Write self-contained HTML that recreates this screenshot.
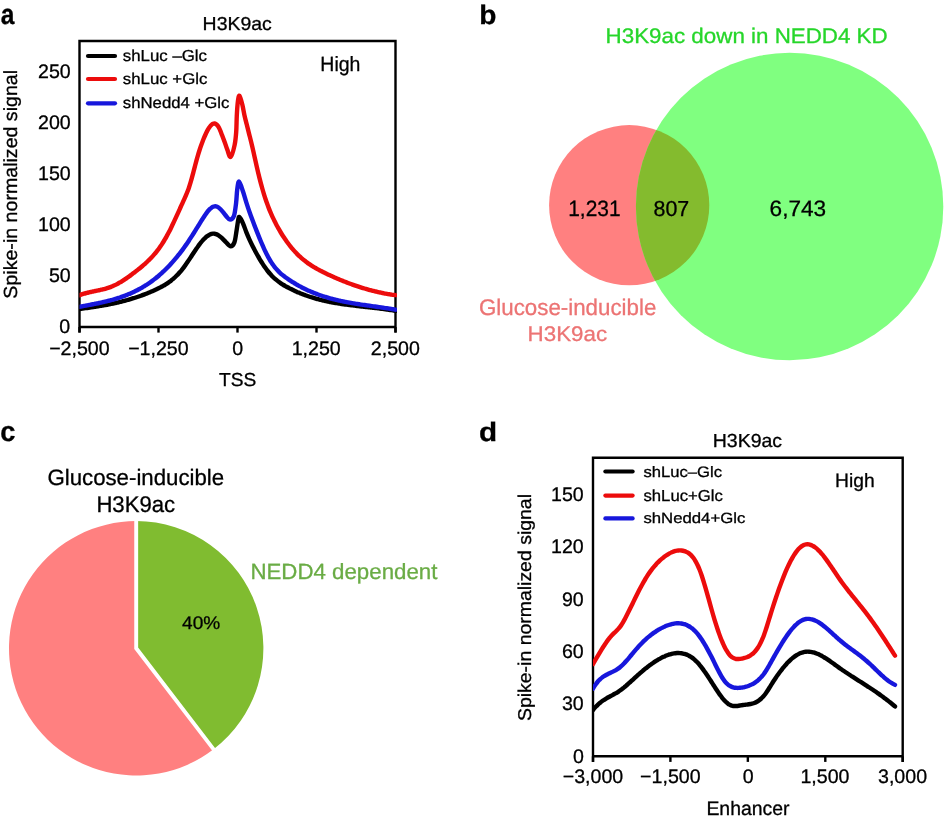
<!DOCTYPE html>
<html><head><meta charset="utf-8"><style>
html,body{margin:0;padding:0;background:#fff;}
svg{display:block;will-change:transform;}
text{font-family:"Liberation Sans",sans-serif;text-rendering:geometricPrecision;}
</style></head><body>
<svg width="946" height="820" viewBox="0 0 946 820">
<rect width="946" height="820" fill="#fff"/>
<circle cx="629.2" cy="205.2" r="80.1" fill="#ff8080"/>
<circle cx="789.6" cy="206.5" r="153.7" fill="#80ff80"/>
<clipPath id="cr"><circle cx="629.2" cy="205.2" r="80.1"/></clipPath>
<circle cx="789.6" cy="206.5" r="153.7" fill="#84bb2e" clip-path="url(#cr)"/>
<path d="M136.20,648.30 L136.20,521.10 A127.20,127.20 0 0 1 213.54,749.28 Z" fill="#80bc30"/>
<path d="M136.20,648.30 L213.54,749.28 A127.20,127.20 0 1 1 136.20,521.10 Z" fill="#ff8080"/>
<path d="M136.20,518.10 L136.20,648.30 L215.37,751.67" stroke="#fff" stroke-width="3.9" fill="none" stroke-linejoin="miter"/>
<path d="M79.5,332.6 L79.5,41 L395.5,41 L395.5,332.6" stroke="#000" stroke-width="2.4" fill="none" stroke-linejoin="miter" stroke-linecap="butt"/>
<line x1="79.5" y1="327" x2="395.5" y2="327" stroke="#000" stroke-width="2.4"/>
<line x1="79.5" y1="327" x2="79.5" y2="332.6" stroke="#000" stroke-width="2.4"/>
<line x1="158.5" y1="327" x2="158.5" y2="332.6" stroke="#000" stroke-width="2.4"/>
<line x1="237.5" y1="327" x2="237.5" y2="332.6" stroke="#000" stroke-width="2.4"/>
<line x1="316.5" y1="327" x2="316.5" y2="332.6" stroke="#000" stroke-width="2.4"/>
<line x1="395.5" y1="327" x2="395.5" y2="332.6" stroke="#000" stroke-width="2.4"/>
<clipPath id="clipa"><rect x="79.5" y="30" width="317.5" height="310"/></clipPath>
<path d="M79.50,308.95 C79.75,308.92 80.50,308.82 81.00,308.76 C81.50,308.69 82.00,308.62 82.50,308.56 C83.00,308.50 83.50,308.44 84.00,308.37 C84.50,308.31 85.00,308.24 85.50,308.17 C86.00,308.10 86.50,308.03 87.00,307.96 C87.50,307.89 88.00,307.82 88.50,307.75 C89.00,307.68 89.50,307.61 90.00,307.54 C90.50,307.47 91.00,307.39 91.50,307.32 C92.00,307.25 92.50,307.18 93.00,307.10 C93.50,307.03 94.00,306.95 94.50,306.87 C95.00,306.79 95.50,306.72 96.00,306.64 C96.50,306.56 97.00,306.48 97.50,306.40 C98.00,306.32 98.50,306.24 99.00,306.16 C99.50,306.08 100.00,306.00 100.50,305.91 C101.00,305.83 101.50,305.74 102.00,305.65 C102.50,305.56 103.00,305.48 103.50,305.39 C104.00,305.30 104.50,305.21 105.00,305.12 C105.50,305.03 106.00,304.93 106.50,304.84 C107.00,304.75 107.50,304.65 108.00,304.55 C108.50,304.45 109.00,304.36 109.50,304.26 C110.00,304.16 110.50,304.06 111.00,303.96 C111.50,303.86 112.00,303.75 112.50,303.65 C113.00,303.54 113.50,303.44 114.00,303.33 C114.50,303.22 115.00,303.11 115.50,303.00 C116.00,302.89 116.50,302.78 117.00,302.66 C117.50,302.55 118.00,302.43 118.50,302.31 C119.00,302.19 119.50,302.07 120.00,301.95 C120.50,301.83 121.00,301.70 121.50,301.58 C122.00,301.45 122.50,301.33 123.00,301.20 C123.50,301.07 124.00,300.94 124.50,300.81 C125.00,300.68 125.50,300.55 126.00,300.41 C126.50,300.28 127.00,300.14 127.50,300.00 C128.00,299.86 128.50,299.71 129.00,299.57 C129.50,299.43 130.00,299.28 130.50,299.13 C131.00,298.98 131.50,298.84 132.00,298.69 C132.50,298.54 133.00,298.38 133.50,298.22 C134.00,298.06 134.50,297.91 135.00,297.75 C135.50,297.59 136.00,297.43 136.50,297.26 C137.00,297.09 137.50,296.93 138.00,296.76 C138.50,296.59 139.00,296.42 139.50,296.24 C140.00,296.06 140.50,295.89 141.00,295.71 C141.50,295.53 142.00,295.35 142.50,295.16 C143.00,294.98 143.50,294.79 144.00,294.60 C144.50,294.41 145.00,294.22 145.50,294.03 C146.00,293.83 146.50,293.63 147.00,293.43 C147.50,293.23 148.00,293.03 148.50,292.83 C149.00,292.62 149.50,292.41 150.00,292.20 C150.50,291.99 151.00,291.78 151.50,291.56 C152.00,291.34 152.50,291.12 153.00,290.90 C153.50,290.68 154.00,290.46 154.50,290.23 C155.00,290.00 155.50,289.77 156.00,289.54 C156.50,289.31 157.00,289.07 157.50,288.83 C158.00,288.59 158.50,288.34 159.00,288.09 C159.50,287.84 160.00,287.59 160.50,287.33 C161.00,287.07 161.50,286.79 162.00,286.52 C162.50,286.25 163.00,285.97 163.50,285.68 C164.00,285.39 164.50,285.10 165.00,284.79 C165.50,284.49 166.00,284.17 166.50,283.85 C167.00,283.53 167.50,283.20 168.00,282.85 C168.50,282.50 169.00,282.15 169.50,281.78 C170.00,281.41 170.50,281.04 171.00,280.65 C171.50,280.26 172.00,279.86 172.50,279.44 C173.00,279.02 173.50,278.59 174.00,278.15 C174.50,277.70 175.00,277.24 175.50,276.77 C176.00,276.30 176.50,275.81 177.00,275.31 C177.50,274.81 178.00,274.28 178.50,273.74 C179.00,273.20 179.50,272.64 180.00,272.07 C180.50,271.50 181.00,270.90 181.50,270.29 C182.00,269.68 182.50,269.05 183.00,268.40 C183.50,267.75 184.00,267.07 184.50,266.39 C185.00,265.70 185.50,265.00 186.00,264.29 C186.50,263.58 187.00,262.84 187.50,262.10 C188.00,261.36 188.50,260.61 189.00,259.86 C189.50,259.11 190.00,258.35 190.50,257.59 C191.00,256.83 191.50,256.06 192.00,255.30 C192.50,254.54 193.00,253.78 193.50,253.02 C194.00,252.26 194.50,251.50 195.00,250.76 C195.50,250.02 196.00,249.28 196.50,248.56 C197.00,247.84 197.50,247.12 198.00,246.43 C198.50,245.74 199.00,245.05 199.50,244.39 C200.00,243.73 200.50,243.08 201.00,242.46 C201.50,241.84 202.00,241.24 202.50,240.67 C203.00,240.10 203.50,239.55 204.00,239.03 C204.50,238.51 205.00,238.02 205.50,237.57 C206.00,237.12 206.50,236.69 207.00,236.31 C207.50,235.93 208.00,235.58 208.50,235.27 C209.00,234.96 209.50,234.69 210.00,234.46 C210.50,234.24 211.00,234.05 211.50,233.92 C212.00,233.79 212.50,233.70 213.00,233.67 C213.50,233.64 214.00,233.65 214.50,233.72 C215.00,233.79 215.50,233.91 216.00,234.09 C216.50,234.27 217.00,234.50 217.50,234.77 C218.00,235.04 218.50,235.36 219.00,235.71 C219.50,236.06 220.00,236.46 220.50,236.87 C221.00,237.28 221.50,237.73 222.00,238.19 C222.50,238.65 223.00,239.15 223.50,239.64 C224.00,240.13 224.55,240.69 225.00,241.15 C225.45,241.61 225.27,241.56 226.20,242.40 C227.13,243.24 229.23,246.20 230.60,246.20 C231.97,246.20 233.40,245.05 234.40,242.40 C235.40,239.75 235.95,234.13 236.60,230.30 C237.25,226.47 237.82,221.58 238.30,219.40 C238.78,217.22 238.72,216.55 239.50,217.20 C240.28,217.85 241.87,220.82 243.00,223.30 C244.13,225.78 245.20,229.35 246.30,232.10 C247.40,234.85 248.40,237.18 249.60,239.80 C250.80,242.42 252.60,245.99 253.50,247.80 C254.40,249.62 254.50,249.74 255.00,250.69 C255.50,251.64 256.00,252.58 256.50,253.49 C257.00,254.41 257.50,255.30 258.00,256.18 C258.50,257.06 259.00,257.93 259.50,258.78 C260.00,259.63 260.50,260.46 261.00,261.27 C261.50,262.08 262.00,262.88 262.50,263.66 C263.00,264.44 263.50,265.18 264.00,265.92 C264.50,266.66 265.00,267.38 265.50,268.08 C266.00,268.78 266.50,269.45 267.00,270.10 C267.50,270.75 268.00,271.40 268.50,272.01 C269.00,272.62 269.50,273.21 270.00,273.78 C270.50,274.35 271.00,274.90 271.50,275.43 C272.00,275.96 272.50,276.46 273.00,276.95 C273.50,277.44 274.00,277.91 274.50,278.36 C275.00,278.81 275.50,279.26 276.00,279.68 C276.50,280.10 277.00,280.50 277.50,280.89 C278.00,281.28 278.50,281.66 279.00,282.03 C279.50,282.39 280.00,282.74 280.50,283.08 C281.00,283.42 281.50,283.75 282.00,284.07 C282.50,284.39 283.00,284.71 283.50,285.01 C284.00,285.31 284.50,285.60 285.00,285.89 C285.50,286.18 286.00,286.46 286.50,286.73 C287.00,287.00 287.50,287.27 288.00,287.54 C288.50,287.81 289.00,288.07 289.50,288.33 C290.00,288.59 290.50,288.84 291.00,289.09 C291.50,289.34 292.00,289.58 292.50,289.82 C293.00,290.06 293.50,290.31 294.00,290.54 C294.50,290.78 295.00,291.00 295.50,291.23 C296.00,291.46 296.50,291.68 297.00,291.90 C297.50,292.12 298.00,292.34 298.50,292.55 C299.00,292.76 299.50,292.97 300.00,293.17 C300.50,293.38 301.00,293.58 301.50,293.78 C302.00,293.98 302.50,294.17 303.00,294.36 C303.50,294.55 304.00,294.75 304.50,294.93 C305.00,295.12 305.50,295.29 306.00,295.47 C306.50,295.65 307.00,295.83 307.50,296.00 C308.00,296.17 308.50,296.34 309.00,296.51 C309.50,296.68 310.00,296.84 310.50,297.00 C311.00,297.16 311.50,297.32 312.00,297.47 C312.50,297.62 313.00,297.78 313.50,297.93 C314.00,298.08 314.50,298.23 315.00,298.37 C315.50,298.51 316.00,298.65 316.50,298.79 C317.00,298.93 317.50,299.07 318.00,299.20 C318.50,299.33 319.00,299.46 319.50,299.59 C320.00,299.72 320.50,299.85 321.00,299.97 C321.50,300.10 322.00,300.22 322.50,300.34 C323.00,300.46 323.50,300.57 324.00,300.69 C324.50,300.81 325.00,300.92 325.50,301.03 C326.00,301.14 326.50,301.24 327.00,301.35 C327.50,301.46 328.00,301.57 328.50,301.67 C329.00,301.77 329.50,301.87 330.00,301.97 C330.50,302.07 331.00,302.16 331.50,302.26 C332.00,302.36 332.50,302.45 333.00,302.54 C333.50,302.63 334.00,302.72 334.50,302.81 C335.00,302.90 335.50,302.99 336.00,303.07 C336.50,303.15 337.00,303.24 337.50,303.32 C338.00,303.40 338.50,303.48 339.00,303.56 C339.50,303.64 340.00,303.71 340.50,303.79 C341.00,303.87 341.50,303.95 342.00,304.02 C342.50,304.09 343.00,304.16 343.50,304.23 C344.00,304.30 344.50,304.38 345.00,304.45 C345.50,304.52 346.00,304.58 346.50,304.65 C347.00,304.72 347.50,304.79 348.00,304.85 C348.50,304.92 349.00,304.98 349.50,305.04 C350.00,305.10 350.50,305.17 351.00,305.23 C351.50,305.29 352.00,305.36 352.50,305.42 C353.00,305.48 353.50,305.54 354.00,305.60 C354.50,305.66 355.00,305.71 355.50,305.77 C356.00,305.83 356.50,305.89 357.00,305.95 C357.50,306.01 358.00,306.06 358.50,306.12 C359.00,306.18 359.50,306.22 360.00,306.28 C360.50,306.33 361.00,306.39 361.50,306.45 C362.00,306.51 362.50,306.56 363.00,306.62 C363.50,306.68 364.00,306.72 364.50,306.78 C365.00,306.83 365.50,306.89 366.00,306.95 C366.50,307.00 367.00,307.06 367.50,307.11 C368.00,307.17 368.50,307.22 369.00,307.28 C369.50,307.34 370.00,307.39 370.50,307.45 C371.00,307.51 371.50,307.56 372.00,307.62 C372.50,307.68 373.00,307.73 373.50,307.79 C374.00,307.85 374.50,307.90 375.00,307.96 C375.50,308.02 376.00,308.08 376.50,308.14 C377.00,308.20 377.50,308.26 378.00,308.32 C378.50,308.38 379.00,308.45 379.50,308.51 C380.00,308.57 380.50,308.64 381.00,308.70 C381.50,308.76 382.00,308.82 382.50,308.89 C383.00,308.95 383.50,309.02 384.00,309.09 C384.50,309.16 385.00,309.23 385.50,309.30 C386.00,309.37 386.50,309.44 387.00,309.51 C387.50,309.58 388.00,309.66 388.50,309.73 C389.00,309.81 389.50,309.88 390.00,309.96 C390.50,310.04 391.00,310.12 391.50,310.20 C392.00,310.28 392.50,310.36 393.00,310.44 C393.50,310.52 394.08,310.62 394.50,310.69 C394.92,310.76 395.33,310.84 395.50,310.87" stroke="#000" stroke-width="4.4" fill="none" stroke-linecap="round" stroke-linejoin="round" clip-path="url(#clipa)"/>
<path d="M79.50,295.14 C79.75,295.05 80.50,294.78 81.00,294.61 C81.50,294.44 82.00,294.28 82.50,294.12 C83.00,293.96 83.50,293.81 84.00,293.66 C84.50,293.52 85.00,293.38 85.50,293.25 C86.00,293.12 86.50,292.99 87.00,292.86 C87.50,292.73 88.00,292.61 88.50,292.49 C89.00,292.37 89.50,292.26 90.00,292.15 C90.50,292.04 91.00,291.93 91.50,291.82 C92.00,291.71 92.50,291.61 93.00,291.50 C93.50,291.39 94.00,291.29 94.50,291.18 C95.00,291.07 95.50,290.98 96.00,290.87 C96.50,290.76 97.00,290.66 97.50,290.55 C98.00,290.44 98.50,290.34 99.00,290.23 C99.50,290.12 100.00,290.00 100.50,289.89 C101.00,289.77 101.50,289.66 102.00,289.54 C102.50,289.42 103.00,289.30 103.50,289.17 C104.00,289.04 104.50,288.91 105.00,288.77 C105.50,288.63 106.00,288.49 106.50,288.34 C107.00,288.19 107.50,288.03 108.00,287.87 C108.50,287.71 109.00,287.55 109.50,287.37 C110.00,287.19 110.50,287.01 111.00,286.82 C111.50,286.63 112.00,286.43 112.50,286.22 C113.00,286.01 113.50,285.80 114.00,285.57 C114.50,285.34 115.00,285.11 115.50,284.86 C116.00,284.62 116.50,284.36 117.00,284.10 C117.50,283.84 118.00,283.57 118.50,283.29 C119.00,283.01 119.50,282.73 120.00,282.44 C120.50,282.15 121.00,281.85 121.50,281.54 C122.00,281.23 122.50,280.91 123.00,280.59 C123.50,280.27 124.00,279.94 124.50,279.61 C125.00,279.28 125.50,278.94 126.00,278.60 C126.50,278.26 127.00,277.90 127.50,277.55 C128.00,277.20 128.50,276.84 129.00,276.48 C129.50,276.12 130.00,275.75 130.50,275.38 C131.00,275.01 131.50,274.64 132.00,274.26 C132.50,273.88 133.00,273.50 133.50,273.12 C134.00,272.74 134.50,272.35 135.00,271.96 C135.50,271.57 136.00,271.18 136.50,270.79 C137.00,270.40 137.50,270.00 138.00,269.60 C138.50,269.20 139.00,268.81 139.50,268.41 C140.00,268.01 140.50,267.60 141.00,267.19 C141.50,266.78 142.00,266.37 142.50,265.95 C143.00,265.53 143.50,265.10 144.00,264.67 C144.50,264.24 145.00,263.80 145.50,263.35 C146.00,262.90 146.50,262.45 147.00,261.98 C147.50,261.51 148.00,261.04 148.50,260.55 C149.00,260.06 149.50,259.58 150.00,259.07 C150.50,258.56 151.00,258.04 151.50,257.51 C152.00,256.98 152.50,256.44 153.00,255.88 C153.50,255.32 154.00,254.75 154.50,254.16 C155.00,253.57 155.50,252.97 156.00,252.35 C156.50,251.73 157.00,251.10 157.50,250.45 C158.00,249.80 158.50,249.13 159.00,248.44 C159.50,247.75 160.00,247.05 160.50,246.32 C161.00,245.59 161.50,244.85 162.00,244.08 C162.50,243.31 163.00,242.53 163.50,241.72 C164.00,240.91 164.50,240.07 165.00,239.22 C165.50,238.37 166.00,237.49 166.50,236.59 C167.00,235.69 167.50,234.75 168.00,233.81 C168.50,232.87 169.00,231.90 169.50,230.92 C170.00,229.94 170.50,228.93 171.00,227.91 C171.50,226.89 172.00,225.86 172.50,224.81 C173.00,223.76 173.50,222.71 174.00,221.64 C174.50,220.57 175.00,219.50 175.50,218.41 C176.00,217.32 176.50,216.23 177.00,215.13 C177.50,214.03 178.00,212.93 178.50,211.83 C179.00,210.73 179.50,209.62 180.00,208.51 C180.50,207.40 181.00,206.30 181.50,205.20 C182.00,204.10 182.50,203.01 183.00,201.91 C183.50,200.81 184.00,199.74 184.50,198.62 C185.00,197.50 185.50,196.40 186.00,195.22 C186.50,194.04 187.00,192.83 187.50,191.53 C188.00,190.23 188.50,188.89 189.00,187.42 C189.50,185.95 190.00,184.38 190.50,182.71 C191.00,181.04 191.50,179.23 192.00,177.40 C192.50,175.57 193.00,173.65 193.50,171.74 C194.00,169.84 194.50,167.87 195.00,165.97 C195.50,164.07 196.00,162.16 196.50,160.35 C197.00,158.54 197.50,156.78 198.00,155.10 C198.50,153.41 199.00,151.80 199.50,150.24 C200.00,148.69 200.50,147.20 201.00,145.77 C201.50,144.34 202.00,142.97 202.50,141.66 C203.00,140.35 203.50,139.10 204.00,137.90 C204.50,136.70 205.00,135.57 205.50,134.48 C206.00,133.39 206.50,132.34 207.00,131.38 C207.50,130.41 208.00,129.51 208.50,128.69 C209.00,127.87 209.50,127.12 210.00,126.48 C210.50,125.84 211.00,125.27 211.50,124.83 C212.00,124.39 212.50,124.04 213.00,123.83 C213.50,123.62 214.00,123.51 214.50,123.55 C215.00,123.59 215.50,123.75 216.00,124.07 C216.50,124.39 217.00,124.85 217.50,125.48 C218.00,126.11 218.50,126.90 219.00,127.85 C219.50,128.80 220.00,129.98 220.50,131.19 C221.00,132.40 221.50,133.78 222.00,135.09 C222.50,136.40 223.00,137.74 223.50,139.05 C224.00,140.36 224.37,141.17 225.00,142.95 C225.63,144.72 226.35,147.36 227.30,149.70 C228.25,152.04 229.48,157.77 230.70,157.00 C231.92,156.23 233.68,149.27 234.60,145.10 C235.52,140.93 235.83,136.93 236.20,132.00 C236.57,127.07 236.52,120.63 236.80,115.50 C237.08,110.37 237.45,104.50 237.90,101.20 C238.35,97.90 238.77,95.15 239.50,95.70 C240.23,96.25 241.47,101.20 242.30,104.50 C243.13,107.80 243.77,112.20 244.50,115.50 C245.23,118.80 245.97,121.37 246.70,124.30 C247.43,127.23 248.17,130.18 248.90,133.10 C249.63,136.02 250.33,138.64 251.10,141.80 C251.87,144.96 252.85,149.24 253.50,152.07 C254.15,154.90 254.50,156.56 255.00,158.80 C255.50,161.04 256.00,163.31 256.50,165.51 C257.00,167.71 257.50,169.89 258.00,171.99 C258.50,174.09 259.00,176.13 259.50,178.11 C260.00,180.09 260.50,182.01 261.00,183.87 C261.50,185.73 262.00,187.52 262.50,189.26 C263.00,191.00 263.50,192.67 264.00,194.29 C264.50,195.91 265.00,197.46 265.50,198.96 C266.00,200.46 266.50,201.90 267.00,203.30 C267.50,204.70 268.00,206.04 268.50,207.34 C269.00,208.64 269.50,209.89 270.00,211.10 C270.50,212.31 271.00,213.48 271.50,214.61 C272.00,215.74 272.50,216.84 273.00,217.90 C273.50,218.97 274.00,220.00 274.50,221.00 C275.00,222.00 275.50,222.97 276.00,223.93 C276.50,224.89 277.00,225.83 277.50,226.74 C278.00,227.66 278.50,228.54 279.00,229.42 C279.50,230.30 280.00,231.16 280.50,232.00 C281.00,232.84 281.50,233.66 282.00,234.46 C282.50,235.26 283.00,236.05 283.50,236.82 C284.00,237.59 284.50,238.34 285.00,239.08 C285.50,239.82 286.00,240.54 286.50,241.24 C287.00,241.94 287.50,242.63 288.00,243.30 C288.50,243.97 289.00,244.63 289.50,245.27 C290.00,245.91 290.50,246.53 291.00,247.14 C291.50,247.75 292.00,248.35 292.50,248.94 C293.00,249.53 293.50,250.09 294.00,250.65 C294.50,251.21 295.00,251.75 295.50,252.28 C296.00,252.81 296.50,253.33 297.00,253.83 C297.50,254.34 298.00,254.83 298.50,255.31 C299.00,255.79 299.50,256.26 300.00,256.72 C300.50,257.18 301.00,257.63 301.50,258.07 C302.00,258.51 302.50,258.93 303.00,259.35 C303.50,259.77 304.00,260.17 304.50,260.57 C305.00,260.97 305.50,261.36 306.00,261.74 C306.50,262.12 307.00,262.49 307.50,262.85 C308.00,263.21 308.50,263.56 309.00,263.91 C309.50,264.26 310.00,264.60 310.50,264.93 C311.00,265.26 311.50,265.58 312.00,265.90 C312.50,266.22 313.00,266.53 313.50,266.83 C314.00,267.13 314.50,267.43 315.00,267.72 C315.50,268.01 316.00,268.31 316.50,268.59 C317.00,268.87 317.50,269.15 318.00,269.42 C318.50,269.69 319.00,269.96 319.50,270.22 C320.00,270.48 320.50,270.74 321.00,271.00 C321.50,271.26 322.00,271.51 322.50,271.76 C323.00,272.01 323.50,272.26 324.00,272.51 C324.50,272.76 325.00,273.00 325.50,273.24 C326.00,273.48 326.50,273.72 327.00,273.96 C327.50,274.20 328.00,274.44 328.50,274.67 C329.00,274.91 329.50,275.14 330.00,275.37 C330.50,275.60 331.00,275.83 331.50,276.06 C332.00,276.29 332.50,276.51 333.00,276.73 C333.50,276.95 334.00,277.18 334.50,277.40 C335.00,277.62 335.50,277.84 336.00,278.06 C336.50,278.28 337.00,278.50 337.50,278.71 C338.00,278.92 338.50,279.13 339.00,279.34 C339.50,279.55 340.00,279.76 340.50,279.97 C341.00,280.18 341.50,280.38 342.00,280.58 C342.50,280.78 343.00,280.99 343.50,281.19 C344.00,281.39 344.50,281.58 345.00,281.78 C345.50,281.98 346.00,282.18 346.50,282.37 C347.00,282.56 347.50,282.75 348.00,282.94 C348.50,283.13 349.00,283.31 349.50,283.50 C350.00,283.69 350.50,283.87 351.00,284.05 C351.50,284.23 352.00,284.41 352.50,284.59 C353.00,284.77 353.50,284.94 354.00,285.12 C354.50,285.30 355.00,285.47 355.50,285.64 C356.00,285.81 356.50,285.97 357.00,286.14 C357.50,286.31 358.00,286.48 358.50,286.64 C359.00,286.80 359.50,286.96 360.00,287.12 C360.50,287.28 361.00,287.43 361.50,287.59 C362.00,287.75 362.50,287.90 363.00,288.05 C363.50,288.20 364.00,288.35 364.50,288.50 C365.00,288.65 365.50,288.80 366.00,288.94 C366.50,289.08 367.00,289.23 367.50,289.37 C368.00,289.51 368.50,289.64 369.00,289.78 C369.50,289.92 370.00,290.06 370.50,290.19 C371.00,290.32 371.50,290.45 372.00,290.58 C372.50,290.71 373.00,290.83 373.50,290.96 C374.00,291.08 374.50,291.21 375.00,291.33 C375.50,291.45 376.00,291.56 376.50,291.68 C377.00,291.80 377.50,291.92 378.00,292.03 C378.50,292.14 379.00,292.25 379.50,292.36 C380.00,292.47 380.50,292.57 381.00,292.68 C381.50,292.79 382.00,292.89 382.50,292.99 C383.00,293.09 383.50,293.19 384.00,293.29 C384.50,293.39 385.00,293.49 385.50,293.58 C386.00,293.67 386.50,293.76 387.00,293.85 C387.50,293.94 388.00,294.03 388.50,294.11 C389.00,294.19 389.50,294.28 390.00,294.36 C390.50,294.44 391.00,294.51 391.50,294.59 C392.00,294.67 392.50,294.75 393.00,294.82 C393.50,294.89 394.08,294.97 394.50,295.03 C394.92,295.09 395.33,295.14 395.50,295.16" stroke="#ec0c0c" stroke-width="4.4" fill="none" stroke-linecap="round" stroke-linejoin="round" clip-path="url(#clipa)"/>
<path d="M79.50,306.81 C79.75,306.76 80.50,306.62 81.00,306.52 C81.50,306.42 82.00,306.33 82.50,306.23 C83.00,306.13 83.50,306.04 84.00,305.95 C84.50,305.86 85.00,305.75 85.50,305.66 C86.00,305.57 86.50,305.48 87.00,305.38 C87.50,305.28 88.00,305.18 88.50,305.09 C89.00,305.00 89.50,304.90 90.00,304.81 C90.50,304.72 91.00,304.62 91.50,304.52 C92.00,304.42 92.50,304.32 93.00,304.22 C93.50,304.12 94.00,304.03 94.50,303.93 C95.00,303.83 95.50,303.73 96.00,303.63 C96.50,303.53 97.00,303.42 97.50,303.32 C98.00,303.22 98.50,303.12 99.00,303.01 C99.50,302.90 100.00,302.80 100.50,302.69 C101.00,302.58 101.50,302.47 102.00,302.36 C102.50,302.25 103.00,302.13 103.50,302.02 C104.00,301.90 104.50,301.79 105.00,301.67 C105.50,301.55 106.00,301.43 106.50,301.31 C107.00,301.19 107.50,301.06 108.00,300.94 C108.50,300.81 109.00,300.69 109.50,300.56 C110.00,300.43 110.50,300.30 111.00,300.16 C111.50,300.03 112.00,299.89 112.50,299.75 C113.00,299.61 113.50,299.47 114.00,299.33 C114.50,299.19 115.00,299.04 115.50,298.89 C116.00,298.74 116.50,298.59 117.00,298.43 C117.50,298.27 118.00,298.11 118.50,297.95 C119.00,297.79 119.50,297.63 120.00,297.46 C120.50,297.29 121.00,297.12 121.50,296.95 C122.00,296.77 122.50,296.59 123.00,296.41 C123.50,296.23 124.00,296.05 124.50,295.86 C125.00,295.67 125.50,295.49 126.00,295.29 C126.50,295.10 127.00,294.89 127.50,294.69 C128.00,294.49 128.50,294.28 129.00,294.07 C129.50,293.86 130.00,293.64 130.50,293.42 C131.00,293.20 131.50,292.98 132.00,292.75 C132.50,292.52 133.00,292.30 133.50,292.06 C134.00,291.82 134.50,291.58 135.00,291.34 C135.50,291.09 136.00,290.84 136.50,290.59 C137.00,290.33 137.50,290.07 138.00,289.81 C138.50,289.55 139.00,289.27 139.50,289.00 C140.00,288.73 140.50,288.45 141.00,288.16 C141.50,287.88 142.00,287.59 142.50,287.29 C143.00,287.00 143.50,286.69 144.00,286.39 C144.50,286.08 145.00,285.78 145.50,285.46 C146.00,285.14 146.50,284.82 147.00,284.49 C147.50,284.16 148.00,283.83 148.50,283.49 C149.00,283.15 149.50,282.81 150.00,282.46 C150.50,282.11 151.00,281.74 151.50,281.38 C152.00,281.02 152.50,280.65 153.00,280.28 C153.50,279.90 154.00,279.52 154.50,279.13 C155.00,278.74 155.50,278.35 156.00,277.95 C156.50,277.55 157.00,277.14 157.50,276.72 C158.00,276.31 158.50,275.89 159.00,275.46 C159.50,275.03 160.00,274.59 160.50,274.15 C161.00,273.71 161.50,273.26 162.00,272.81 C162.50,272.36 163.00,271.89 163.50,271.42 C164.00,270.95 164.50,270.47 165.00,269.98 C165.50,269.50 166.00,269.01 166.50,268.51 C167.00,268.01 167.50,267.50 168.00,266.98 C168.50,266.46 169.00,265.94 169.50,265.41 C170.00,264.88 170.50,264.35 171.00,263.80 C171.50,263.25 172.00,262.70 172.50,262.14 C173.00,261.58 173.50,261.00 174.00,260.42 C174.50,259.84 175.00,259.25 175.50,258.66 C176.00,258.07 176.50,257.46 177.00,256.85 C177.50,256.24 178.00,255.62 178.50,254.99 C179.00,254.36 179.50,253.72 180.00,253.07 C180.50,252.42 181.00,251.77 181.50,251.11 C182.00,250.45 182.50,249.77 183.00,249.09 C183.50,248.41 184.00,247.71 184.50,247.01 C185.00,246.31 185.50,245.60 186.00,244.88 C186.50,244.16 187.00,243.44 187.50,242.70 C188.00,241.96 188.50,241.22 189.00,240.46 C189.50,239.71 190.00,238.94 190.50,238.17 C191.00,237.40 191.50,236.62 192.00,235.84 C192.50,235.06 193.00,234.28 193.50,233.49 C194.00,232.70 194.50,231.90 195.00,231.10 C195.50,230.30 196.00,229.50 196.50,228.70 C197.00,227.90 197.50,227.09 198.00,226.28 C198.50,225.47 199.00,224.67 199.50,223.86 C200.00,223.05 200.50,222.25 201.00,221.44 C201.50,220.63 202.00,219.82 202.50,219.03 C203.00,218.24 203.50,217.44 204.00,216.68 C204.50,215.92 205.00,215.17 205.50,214.45 C206.00,213.73 206.50,213.03 207.00,212.38 C207.50,211.73 208.00,211.10 208.50,210.53 C209.00,209.96 209.50,209.42 210.00,208.95 C210.50,208.48 211.00,208.05 211.50,207.69 C212.00,207.33 212.50,207.03 213.00,206.80 C213.50,206.58 214.00,206.42 214.50,206.34 C215.00,206.26 215.50,206.26 216.00,206.35 C216.50,206.44 217.00,206.62 217.50,206.88 C218.00,207.13 218.50,207.49 219.00,207.88 C219.50,208.27 220.00,208.74 220.50,209.24 C221.00,209.74 221.50,210.31 222.00,210.88 C222.50,211.45 223.00,212.07 223.50,212.69 C224.00,213.31 224.55,214.00 225.00,214.57 C225.45,215.14 225.37,215.26 226.20,216.10 C227.03,216.94 228.72,219.60 230.00,219.60 C231.28,219.60 232.88,218.88 233.90,216.10 C234.92,213.32 235.55,207.30 236.10,202.90 C236.65,198.50 236.70,193.25 237.20,189.70 C237.70,186.15 238.13,181.30 239.10,181.60 C240.07,181.90 241.80,188.03 243.00,191.50 C244.20,194.97 245.20,198.93 246.30,202.40 C247.40,205.87 248.40,208.90 249.60,212.30 C250.80,215.70 252.60,220.39 253.50,222.79 C254.40,225.19 254.50,225.42 255.00,226.72 C255.50,228.02 256.00,229.32 256.50,230.60 C257.00,231.88 257.50,233.16 258.00,234.41 C258.50,235.66 259.00,236.91 259.50,238.13 C260.00,239.35 260.50,240.56 261.00,241.75 C261.50,242.94 262.00,244.10 262.50,245.24 C263.00,246.38 263.50,247.50 264.00,248.59 C264.50,249.68 265.00,250.75 265.50,251.78 C266.00,252.81 266.50,253.83 267.00,254.80 C267.50,255.78 268.00,256.72 268.50,257.63 C269.00,258.54 269.50,259.41 270.00,260.24 C270.50,261.07 271.00,261.87 271.50,262.64 C272.00,263.41 272.50,264.14 273.00,264.84 C273.50,265.54 274.00,266.20 274.50,266.84 C275.00,267.48 275.50,268.10 276.00,268.68 C276.50,269.26 277.00,269.82 277.50,270.35 C278.00,270.88 278.50,271.40 279.00,271.89 C279.50,272.38 280.00,272.85 280.50,273.30 C281.00,273.75 281.50,274.19 282.00,274.61 C282.50,275.03 283.00,275.43 283.50,275.82 C284.00,276.21 284.50,276.59 285.00,276.96 C285.50,277.33 286.00,277.69 286.50,278.04 C287.00,278.39 287.50,278.74 288.00,279.08 C288.50,279.42 289.00,279.76 289.50,280.09 C290.00,280.42 290.50,280.75 291.00,281.07 C291.50,281.39 292.00,281.71 292.50,282.02 C293.00,282.33 293.50,282.64 294.00,282.95 C294.50,283.25 295.00,283.56 295.50,283.85 C296.00,284.15 296.50,284.44 297.00,284.72 C297.50,285.00 298.00,285.28 298.50,285.56 C299.00,285.84 299.50,286.12 300.00,286.39 C300.50,286.66 301.00,286.92 301.50,287.18 C302.00,287.44 302.50,287.70 303.00,287.95 C303.50,288.20 304.00,288.45 304.50,288.70 C305.00,288.95 305.50,289.19 306.00,289.43 C306.50,289.67 307.00,289.90 307.50,290.13 C308.00,290.36 308.50,290.59 309.00,290.81 C309.50,291.03 310.00,291.25 310.50,291.47 C311.00,291.69 311.50,291.90 312.00,292.11 C312.50,292.32 313.00,292.52 313.50,292.72 C314.00,292.92 314.50,293.12 315.00,293.32 C315.50,293.52 316.00,293.71 316.50,293.90 C317.00,294.09 317.50,294.27 318.00,294.45 C318.50,294.63 319.00,294.81 319.50,294.99 C320.00,295.17 320.50,295.34 321.00,295.51 C321.50,295.68 322.00,295.85 322.50,296.02 C323.00,296.19 323.50,296.34 324.00,296.50 C324.50,296.66 325.00,296.82 325.50,296.97 C326.00,297.12 326.50,297.28 327.00,297.43 C327.50,297.58 328.00,297.73 328.50,297.87 C329.00,298.01 329.50,298.15 330.00,298.29 C330.50,298.43 331.00,298.57 331.50,298.70 C332.00,298.83 332.50,298.96 333.00,299.09 C333.50,299.22 334.00,299.35 334.50,299.47 C335.00,299.60 335.50,299.72 336.00,299.84 C336.50,299.96 337.00,300.08 337.50,300.20 C338.00,300.32 338.50,300.43 339.00,300.54 C339.50,300.65 340.00,300.76 340.50,300.87 C341.00,300.98 341.50,301.08 342.00,301.19 C342.50,301.30 343.00,301.40 343.50,301.50 C344.00,301.60 344.50,301.71 345.00,301.81 C345.50,301.91 346.00,302.00 346.50,302.10 C347.00,302.20 347.50,302.29 348.00,302.38 C348.50,302.47 349.00,302.56 349.50,302.65 C350.00,302.74 350.50,302.83 351.00,302.92 C351.50,303.01 352.00,303.10 352.50,303.18 C353.00,303.26 353.50,303.35 354.00,303.43 C354.50,303.51 355.00,303.60 355.50,303.68 C356.00,303.76 356.50,303.84 357.00,303.92 C357.50,304.00 358.00,304.07 358.50,304.15 C359.00,304.23 359.50,304.30 360.00,304.38 C360.50,304.46 361.00,304.54 361.50,304.61 C362.00,304.69 362.50,304.76 363.00,304.83 C363.50,304.90 364.00,304.98 364.50,305.05 C365.00,305.12 365.50,305.19 366.00,305.26 C366.50,305.33 367.00,305.41 367.50,305.48 C368.00,305.55 368.50,305.62 369.00,305.69 C369.50,305.76 370.00,305.83 370.50,305.90 C371.00,305.97 371.50,306.04 372.00,306.11 C372.50,306.18 373.00,306.25 373.50,306.32 C374.00,306.39 374.50,306.46 375.00,306.53 C375.50,306.60 376.00,306.67 376.50,306.74 C377.00,306.81 377.50,306.88 378.00,306.95 C378.50,307.02 379.00,307.10 379.50,307.17 C380.00,307.24 380.50,307.31 381.00,307.38 C381.50,307.45 382.00,307.53 382.50,307.60 C383.00,307.67 383.50,307.75 384.00,307.82 C384.50,307.89 385.00,307.97 385.50,308.05 C386.00,308.13 386.50,308.20 387.00,308.28 C387.50,308.36 388.00,308.44 388.50,308.52 C389.00,308.60 389.50,308.68 390.00,308.76 C390.50,308.84 391.00,308.93 391.50,309.01 C392.00,309.09 392.50,309.18 393.00,309.26 C393.50,309.34 394.08,309.45 394.50,309.52 C394.92,309.59 395.33,309.67 395.50,309.70" stroke="#1717dc" stroke-width="4.4" fill="none" stroke-linecap="round" stroke-linejoin="round" clip-path="url(#clipa)"/>
<line x1="88" y1="56" x2="115" y2="56" stroke="#000" stroke-width="4.2" stroke-linecap="round"/>
<line x1="88" y1="79" x2="115" y2="79" stroke="#ec0c0c" stroke-width="4.2" stroke-linecap="round"/>
<line x1="88" y1="103.3" x2="115" y2="103.3" stroke="#1717dc" stroke-width="4.2" stroke-linecap="round"/>
<path d="M593,761.9 L593,457.8 L902.7,457.8 L902.7,761.9" stroke="#000" stroke-width="2.4" fill="none" stroke-linejoin="miter" stroke-linecap="butt"/>
<line x1="593" y1="756.3" x2="902.7" y2="756.3" stroke="#000" stroke-width="2.4"/>
<line x1="593" y1="756.3" x2="593" y2="761.9" stroke="#000" stroke-width="2.4"/>
<line x1="670.4" y1="756.3" x2="670.4" y2="761.9" stroke="#000" stroke-width="2.4"/>
<line x1="747.85" y1="756.3" x2="747.85" y2="761.9" stroke="#000" stroke-width="2.4"/>
<line x1="825.3" y1="756.3" x2="825.3" y2="761.9" stroke="#000" stroke-width="2.4"/>
<line x1="902.7" y1="756.3" x2="902.7" y2="761.9" stroke="#000" stroke-width="2.4"/>
<clipPath id="clipd"><rect x="593" y="440" width="320" height="330"/></clipPath>
<path d="M593.00,709.98 C593.25,709.68 594.00,708.75 594.50,708.17 C595.00,707.59 595.50,707.04 596.00,706.52 C596.50,706.00 597.00,705.50 597.50,705.03 C598.00,704.55 598.50,704.10 599.00,703.67 C599.50,703.24 600.00,702.82 600.50,702.43 C601.00,702.03 601.50,701.66 602.00,701.30 C602.50,700.94 603.00,700.60 603.50,700.26 C604.00,699.92 604.50,699.60 605.00,699.29 C605.50,698.98 606.00,698.68 606.50,698.39 C607.00,698.10 607.50,697.81 608.00,697.53 C608.50,697.25 609.00,696.97 609.50,696.70 C610.00,696.43 610.50,696.17 611.00,695.90 C611.50,695.63 612.00,695.36 612.50,695.09 C613.00,694.82 613.50,694.55 614.00,694.27 C614.50,693.99 615.00,693.71 615.50,693.42 C616.00,693.13 616.50,692.83 617.00,692.52 C617.50,692.21 618.00,691.90 618.50,691.57 C619.00,691.24 619.50,690.90 620.00,690.55 C620.50,690.20 621.00,689.83 621.50,689.45 C622.00,689.07 622.50,688.69 623.00,688.29 C623.50,687.89 624.00,687.48 624.50,687.07 C625.00,686.66 625.50,686.24 626.00,685.81 C626.50,685.38 627.00,684.95 627.50,684.51 C628.00,684.07 628.50,683.62 629.00,683.17 C629.50,682.72 630.00,682.28 630.50,681.82 C631.00,681.37 631.50,680.90 632.00,680.44 C632.50,679.98 633.00,679.53 633.50,679.07 C634.00,678.61 634.50,678.15 635.00,677.69 C635.50,677.23 636.00,676.78 636.50,676.33 C637.00,675.88 637.50,675.43 638.00,674.98 C638.50,674.53 639.00,674.10 639.50,673.66 C640.00,673.22 640.50,672.78 641.00,672.35 C641.50,671.92 642.00,671.49 642.50,671.07 C643.00,670.65 643.50,670.23 644.00,669.82 C644.50,669.41 645.00,668.99 645.50,668.59 C646.00,668.19 646.50,667.79 647.00,667.40 C647.50,667.01 648.00,666.61 648.50,666.23 C649.00,665.85 649.50,665.47 650.00,665.10 C650.50,664.73 651.00,664.37 651.50,664.01 C652.00,663.65 652.50,663.30 653.00,662.96 C653.50,662.62 654.00,662.28 654.50,661.95 C655.00,661.62 655.50,661.29 656.00,660.97 C656.50,660.65 657.00,660.35 657.50,660.05 C658.00,659.75 658.50,659.46 659.00,659.17 C659.50,658.88 660.00,658.60 660.50,658.33 C661.00,658.06 661.50,657.80 662.00,657.55 C662.50,657.30 663.00,657.05 663.50,656.82 C664.00,656.59 664.50,656.37 665.00,656.15 C665.50,655.93 666.00,655.73 666.50,655.53 C667.00,655.33 667.50,655.15 668.00,654.97 C668.50,654.79 669.00,654.62 669.50,654.47 C670.00,654.32 670.50,654.17 671.00,654.04 C671.50,653.91 672.00,653.79 672.50,653.68 C673.00,653.57 673.50,653.47 674.00,653.39 C674.50,653.31 675.00,653.24 675.50,653.19 C676.00,653.14 676.50,653.10 677.00,653.07 C677.50,653.05 678.00,653.03 678.50,653.04 C679.00,653.05 679.50,653.07 680.00,653.11 C680.50,653.15 681.00,653.21 681.50,653.28 C682.00,653.35 682.50,653.44 683.00,653.55 C683.50,653.66 684.00,653.78 684.50,653.93 C685.00,654.07 685.50,654.23 686.00,654.42 C686.50,654.61 687.00,654.81 687.50,655.04 C688.00,655.27 688.50,655.51 689.00,655.78 C689.50,656.05 690.00,656.33 690.50,656.64 C691.00,656.95 691.50,657.28 692.00,657.64 C692.50,658.00 693.00,658.38 693.50,658.78 C694.00,659.18 694.50,659.61 695.00,660.06 C695.50,660.51 696.00,660.99 696.50,661.49 C697.00,661.99 697.50,662.51 698.00,663.06 C698.50,663.61 699.00,664.19 699.50,664.79 C700.00,665.39 700.50,666.00 701.00,666.64 C701.50,667.28 702.00,667.94 702.50,668.61 C703.00,669.28 703.50,669.97 704.00,670.67 C704.50,671.37 705.00,672.09 705.50,672.82 C706.00,673.55 706.50,674.30 707.00,675.05 C707.50,675.80 708.00,676.56 708.50,677.32 C709.00,678.09 709.50,678.86 710.00,679.64 C710.50,680.42 711.00,681.20 711.50,681.98 C712.00,682.76 712.50,683.55 713.00,684.33 C713.50,685.11 714.00,685.90 714.50,686.68 C715.00,687.46 715.50,688.24 716.00,689.00 C716.50,689.76 717.00,690.53 717.50,691.27 C718.00,692.01 718.50,692.75 719.00,693.46 C719.50,694.17 720.00,694.87 720.50,695.55 C721.00,696.23 721.50,696.89 722.00,697.52 C722.50,698.15 723.00,698.76 723.50,699.34 C724.00,699.92 724.50,700.47 725.00,700.99 C725.50,701.51 726.00,701.99 726.50,702.44 C727.00,702.89 727.50,703.30 728.00,703.67 C728.50,704.04 729.00,704.38 729.50,704.66 C730.00,704.94 730.50,705.19 731.00,705.38 C731.50,705.57 732.00,705.71 732.50,705.82 C733.00,705.93 733.50,706.00 734.00,706.04 C734.50,706.08 735.00,706.08 735.50,706.07 C736.00,706.06 736.50,706.01 737.00,705.96 C737.50,705.91 738.00,705.83 738.50,705.75 C739.00,705.67 739.50,705.59 740.00,705.50 C740.50,705.41 741.00,705.31 741.50,705.23 C742.00,705.15 742.50,705.08 743.00,705.01 C743.50,704.94 744.00,704.88 744.50,704.82 C745.00,704.76 745.50,704.71 746.00,704.65 C746.50,704.59 747.00,704.54 747.50,704.48 C748.00,704.42 748.50,704.35 749.00,704.27 C749.50,704.19 750.00,704.11 750.50,704.01 C751.00,703.91 751.50,703.80 752.00,703.67 C752.50,703.54 753.00,703.39 753.50,703.22 C754.00,703.05 754.50,702.87 755.00,702.65 C755.50,702.43 756.00,702.19 756.50,701.93 C757.00,701.66 757.50,701.38 758.00,701.06 C758.50,700.74 759.00,700.38 759.50,700.00 C760.00,699.62 760.50,699.20 761.00,698.75 C761.50,698.30 762.00,697.81 762.50,697.29 C763.00,696.77 763.50,696.21 764.00,695.61 C764.50,695.01 765.00,694.37 765.50,693.69 C766.00,693.01 766.50,692.28 767.00,691.53 C767.50,690.78 768.00,690.00 768.50,689.21 C769.00,688.42 769.50,687.60 770.00,686.80 C770.50,686.00 771.00,685.18 771.50,684.39 C772.00,683.60 772.50,682.80 773.00,682.03 C773.50,681.25 774.00,680.50 774.50,679.74 C775.00,678.99 775.50,678.24 776.00,677.50 C776.50,676.76 777.00,676.04 777.50,675.33 C778.00,674.62 778.50,673.92 779.00,673.24 C779.50,672.56 780.00,671.88 780.50,671.22 C781.00,670.56 781.50,669.90 782.00,669.27 C782.50,668.63 783.00,668.02 783.50,667.41 C784.00,666.80 784.50,666.21 785.00,665.63 C785.50,665.05 786.00,664.50 786.50,663.95 C787.00,663.40 787.50,662.87 788.00,662.35 C788.50,661.83 789.00,661.33 789.50,660.85 C790.00,660.37 790.50,659.90 791.00,659.45 C791.50,659.00 792.00,658.57 792.50,658.16 C793.00,657.75 793.50,657.35 794.00,656.97 C794.50,656.59 795.00,656.23 795.50,655.89 C796.00,655.55 796.50,655.23 797.00,654.93 C797.50,654.63 798.00,654.34 798.50,654.08 C799.00,653.82 799.50,653.58 800.00,653.36 C800.50,653.14 801.00,652.94 801.50,652.76 C802.00,652.58 802.50,652.42 803.00,652.29 C803.50,652.15 804.00,652.04 804.50,651.95 C805.00,651.86 805.50,651.79 806.00,651.74 C806.50,651.69 807.00,651.67 807.50,651.66 C808.00,651.65 808.50,651.67 809.00,651.70 C809.50,651.73 810.00,651.78 810.50,651.85 C811.00,651.92 811.50,652.01 812.00,652.11 C812.50,652.21 813.00,652.34 813.50,652.47 C814.00,652.61 814.50,652.75 815.00,652.92 C815.50,653.08 816.00,653.27 816.50,653.46 C817.00,653.65 817.50,653.86 818.00,654.08 C818.50,654.30 819.00,654.53 819.50,654.77 C820.00,655.01 820.50,655.27 821.00,655.54 C821.50,655.80 822.00,656.08 822.50,656.36 C823.00,656.64 823.50,656.94 824.00,657.24 C824.50,657.54 825.00,657.85 825.50,658.17 C826.00,658.49 826.50,658.81 827.00,659.14 C827.50,659.47 828.00,659.80 828.50,660.14 C829.00,660.48 829.50,660.82 830.00,661.17 C830.50,661.52 831.00,661.88 831.50,662.23 C832.00,662.59 832.50,662.94 833.00,663.30 C833.50,663.66 834.00,664.03 834.50,664.39 C835.00,664.75 835.50,665.11 836.00,665.47 C836.50,665.83 837.00,666.19 837.50,666.55 C838.00,666.91 838.50,667.26 839.00,667.62 C839.50,667.98 840.00,668.33 840.50,668.68 C841.00,669.03 841.50,669.38 842.00,669.72 C842.50,670.07 843.00,670.41 843.50,670.75 C844.00,671.09 844.50,671.43 845.00,671.77 C845.50,672.11 846.00,672.44 846.50,672.77 C847.00,673.10 847.50,673.44 848.00,673.77 C848.50,674.10 849.00,674.42 849.50,674.75 C850.00,675.08 850.50,675.40 851.00,675.73 C851.50,676.06 852.00,676.38 852.50,676.70 C853.00,677.02 853.50,677.35 854.00,677.67 C854.50,677.99 855.00,678.31 855.50,678.63 C856.00,678.95 856.50,679.26 857.00,679.58 C857.50,679.90 858.00,680.22 858.50,680.54 C859.00,680.86 859.50,681.18 860.00,681.50 C860.50,681.82 861.00,682.13 861.50,682.45 C862.00,682.77 862.50,683.09 863.00,683.41 C863.50,683.73 864.00,684.05 864.50,684.37 C865.00,684.69 865.50,685.01 866.00,685.33 C866.50,685.65 867.00,685.97 867.50,686.30 C868.00,686.62 868.50,686.95 869.00,687.28 C869.50,687.61 870.00,687.93 870.50,688.26 C871.00,688.59 871.50,688.93 872.00,689.26 C872.50,689.59 873.00,689.92 873.50,690.26 C874.00,690.60 874.50,690.93 875.00,691.27 C875.50,691.61 876.00,691.95 876.50,692.30 C877.00,692.64 877.50,692.99 878.00,693.34 C878.50,693.69 879.00,694.04 879.50,694.40 C880.00,694.75 880.50,695.11 881.00,695.47 C881.50,695.83 882.00,696.19 882.50,696.56 C883.00,696.92 883.50,697.29 884.00,697.66 C884.50,698.03 885.00,698.41 885.50,698.79 C886.00,699.17 886.50,699.55 887.00,699.94 C887.50,700.33 888.00,700.72 888.50,701.11 C889.00,701.50 889.50,701.90 890.00,702.30 C890.50,702.70 891.00,703.11 891.50,703.52 C892.00,703.93 892.50,704.34 893.00,704.76 C893.50,705.18 894.17,705.75 894.50,706.03 C894.83,706.31 894.92,706.39 895.00,706.46" stroke="#000" stroke-width="4.4" fill="none" stroke-linecap="round" stroke-linejoin="round" clip-path="url(#clipd)"/>
<path d="M593.00,664.00 C593.25,663.58 594.00,662.34 594.50,661.50 C595.00,660.66 595.50,659.82 596.00,658.97 C596.50,658.12 597.00,657.27 597.50,656.42 C598.00,655.57 598.50,654.72 599.00,653.88 C599.50,653.04 600.00,652.20 600.50,651.37 C601.00,650.54 601.50,649.71 602.00,648.90 C602.50,648.09 603.00,647.28 603.50,646.50 C604.00,645.72 604.50,644.94 605.00,644.19 C605.50,643.44 606.00,642.69 606.50,641.98 C607.00,641.27 607.50,640.57 608.00,639.91 C608.50,639.25 609.00,638.60 609.50,637.99 C610.00,637.38 610.50,636.80 611.00,636.24 C611.50,635.68 612.00,635.17 612.50,634.66 C613.00,634.15 613.50,633.68 614.00,633.19 C614.50,632.71 615.00,632.24 615.50,631.75 C616.00,631.26 616.50,630.78 617.00,630.26 C617.50,629.74 618.00,629.22 618.50,628.65 C619.00,628.08 619.50,627.49 620.00,626.83 C620.50,626.18 621.00,625.48 621.50,624.72 C622.00,623.96 622.50,623.14 623.00,622.29 C623.50,621.44 624.00,620.53 624.50,619.61 C625.00,618.69 625.50,617.72 626.00,616.75 C626.50,615.78 627.00,614.80 627.50,613.81 C628.00,612.82 628.50,611.82 629.00,610.81 C629.50,609.80 630.00,608.79 630.50,607.77 C631.00,606.75 631.50,605.73 632.00,604.71 C632.50,603.69 633.00,602.66 633.50,601.64 C634.00,600.62 634.50,599.60 635.00,598.58 C635.50,597.57 636.00,596.55 636.50,595.55 C637.00,594.55 637.50,593.55 638.00,592.56 C638.50,591.57 639.00,590.59 639.50,589.62 C640.00,588.65 640.50,587.70 641.00,586.76 C641.50,585.82 642.00,584.89 642.50,583.98 C643.00,583.07 643.50,582.18 644.00,581.31 C644.50,580.44 645.00,579.58 645.50,578.75 C646.00,577.92 646.50,577.12 647.00,576.33 C647.50,575.55 648.00,574.78 648.50,574.04 C649.00,573.30 649.50,572.57 650.00,571.87 C650.50,571.17 651.00,570.49 651.50,569.83 C652.00,569.17 652.50,568.53 653.00,567.91 C653.50,567.29 654.00,566.69 654.50,566.10 C655.00,565.51 655.50,564.95 656.00,564.40 C656.50,563.85 657.00,563.32 657.50,562.81 C658.00,562.29 658.50,561.79 659.00,561.31 C659.50,560.83 660.00,560.37 660.50,559.92 C661.00,559.47 661.50,559.03 662.00,558.61 C662.50,558.19 663.00,557.79 663.50,557.40 C664.00,557.01 664.50,556.63 665.00,556.27 C665.50,555.91 666.00,555.56 666.50,555.22 C667.00,554.88 667.50,554.57 668.00,554.26 C668.50,553.95 669.00,553.66 669.50,553.39 C670.00,553.12 670.50,552.86 671.00,552.62 C671.50,552.38 672.00,552.15 672.50,551.95 C673.00,551.75 673.50,551.56 674.00,551.40 C674.50,551.24 675.00,551.09 675.50,550.96 C676.00,550.83 676.50,550.72 677.00,550.64 C677.50,550.56 678.00,550.50 678.50,550.46 C679.00,550.42 679.50,550.39 680.00,550.40 C680.50,550.40 681.00,550.44 681.50,550.49 C682.00,550.54 682.50,550.62 683.00,550.72 C683.50,550.82 684.00,550.95 684.50,551.10 C685.00,551.25 685.50,551.43 686.00,551.65 C686.50,551.87 687.00,552.11 687.50,552.40 C688.00,552.69 688.50,553.01 689.00,553.38 C689.50,553.75 690.00,554.16 690.50,554.63 C691.00,555.10 691.50,555.61 692.00,556.18 C692.50,556.75 693.00,557.37 693.50,558.06 C694.00,558.75 694.50,559.48 695.00,560.30 C695.50,561.12 696.00,562.00 696.50,562.95 C697.00,563.90 697.50,564.92 698.00,566.02 C698.50,567.12 699.00,568.30 699.50,569.56 C700.00,570.82 700.50,572.17 701.00,573.58 C701.50,574.99 702.00,576.47 702.50,578.01 C703.00,579.55 703.50,581.16 704.00,582.80 C704.50,584.44 705.00,586.13 705.50,587.85 C706.00,589.57 706.50,591.33 707.00,593.10 C707.50,594.87 708.00,596.67 708.50,598.46 C709.00,600.25 709.50,602.07 710.00,603.87 C710.50,605.67 711.00,607.47 711.50,609.24 C712.00,611.01 712.50,612.78 713.00,614.50 C713.50,616.22 714.00,617.92 714.50,619.57 C715.00,621.22 715.50,622.84 716.00,624.42 C716.50,626.00 717.00,627.54 717.50,629.03 C718.00,630.52 718.50,631.97 719.00,633.37 C719.50,634.77 720.00,636.13 720.50,637.43 C721.00,638.73 721.50,639.99 722.00,641.19 C722.50,642.39 723.00,643.55 723.50,644.64 C724.00,645.73 724.50,646.77 725.00,647.74 C725.50,648.71 726.00,649.63 726.50,650.48 C727.00,651.33 727.50,652.13 728.00,652.85 C728.50,653.57 729.00,654.23 729.50,654.82 C730.00,655.41 730.50,655.92 731.00,656.37 C731.50,656.82 732.00,657.20 732.50,657.52 C733.00,657.84 733.50,658.09 734.00,658.30 C734.50,658.51 735.00,658.66 735.50,658.78 C736.00,658.89 736.50,658.96 737.00,658.99 C737.50,659.02 738.00,659.01 738.50,658.99 C739.00,658.97 739.50,658.91 740.00,658.84 C740.50,658.77 741.00,658.68 741.50,658.59 C742.00,658.50 742.50,658.39 743.00,658.28 C743.50,658.17 744.00,658.05 744.50,657.92 C745.00,657.79 745.50,657.64 746.00,657.48 C746.50,657.32 747.00,657.15 747.50,656.94 C748.00,656.74 748.50,656.51 749.00,656.25 C749.50,655.99 750.00,655.71 750.50,655.39 C751.00,655.07 751.50,654.72 752.00,654.33 C752.50,653.94 753.00,653.51 753.50,653.04 C754.00,652.57 754.50,652.06 755.00,651.49 C755.50,650.92 756.00,650.32 756.50,649.65 C757.00,648.98 757.50,648.26 758.00,647.48 C758.50,646.70 759.00,645.87 759.50,644.96 C760.00,644.05 760.50,643.08 761.00,642.04 C761.50,641.00 762.00,639.89 762.50,638.70 C763.00,637.51 763.50,636.25 764.00,634.91 C764.50,633.57 765.00,632.13 765.50,630.65 C766.00,629.16 766.50,627.59 767.00,626.00 C767.50,624.41 768.00,622.77 768.50,621.14 C769.00,619.51 769.50,617.86 770.00,616.24 C770.50,614.62 771.00,613.01 771.50,611.42 C772.00,609.83 772.50,608.24 773.00,606.68 C773.50,605.12 774.00,603.57 774.50,602.04 C775.00,600.51 775.50,599.01 776.00,597.52 C776.50,596.03 777.00,594.56 777.50,593.11 C778.00,591.66 778.50,590.24 779.00,588.83 C779.50,587.43 780.00,586.04 780.50,584.68 C781.00,583.32 781.50,581.99 782.00,580.68 C782.50,579.37 783.00,578.09 783.50,576.84 C784.00,575.59 784.50,574.37 785.00,573.17 C785.50,571.97 786.00,570.81 786.50,569.67 C787.00,568.53 787.50,567.42 788.00,566.35 C788.50,565.28 789.00,564.24 789.50,563.23 C790.00,562.22 790.50,561.25 791.00,560.31 C791.50,559.37 792.00,558.48 792.50,557.61 C793.00,556.75 793.50,555.91 794.00,555.12 C794.50,554.33 795.00,553.58 795.50,552.87 C796.00,552.16 796.50,551.50 797.00,550.87 C797.50,550.24 798.00,549.65 798.50,549.11 C799.00,548.57 799.50,548.06 800.00,547.61 C800.50,547.16 801.00,546.75 801.50,546.39 C802.00,546.03 802.50,545.71 803.00,545.44 C803.50,545.17 804.00,544.95 804.50,544.78 C805.00,544.61 805.50,544.49 806.00,544.41 C806.50,544.33 807.00,544.29 807.50,544.30 C808.00,544.30 808.50,544.35 809.00,544.44 C809.50,544.53 810.00,544.66 810.50,544.82 C811.00,544.98 811.50,545.18 812.00,545.42 C812.50,545.66 813.00,545.94 813.50,546.24 C814.00,546.54 814.50,546.88 815.00,547.24 C815.50,547.61 816.00,548.00 816.50,548.43 C817.00,548.85 817.50,549.31 818.00,549.79 C818.50,550.27 819.00,550.77 819.50,551.30 C820.00,551.82 820.50,552.37 821.00,552.94 C821.50,553.51 822.00,554.10 822.50,554.71 C823.00,555.32 823.50,555.95 824.00,556.59 C824.50,557.23 825.00,557.90 825.50,558.57 C826.00,559.24 826.50,559.92 827.00,560.62 C827.50,561.32 828.00,562.02 828.50,562.74 C829.00,563.46 829.50,564.18 830.00,564.91 C830.50,565.64 831.00,566.38 831.50,567.12 C832.00,567.86 832.50,568.61 833.00,569.35 C833.50,570.10 834.00,570.84 834.50,571.59 C835.00,572.34 835.50,573.09 836.00,573.83 C836.50,574.57 837.00,575.31 837.50,576.04 C838.00,576.77 838.50,577.51 839.00,578.23 C839.50,578.95 840.00,579.66 840.50,580.36 C841.00,581.06 841.50,581.75 842.00,582.44 C842.50,583.13 843.00,583.81 843.50,584.48 C844.00,585.15 844.50,585.82 845.00,586.48 C845.50,587.14 846.00,587.79 846.50,588.44 C847.00,589.09 847.50,589.73 848.00,590.37 C848.50,591.01 849.00,591.64 849.50,592.27 C850.00,592.90 850.50,593.52 851.00,594.15 C851.50,594.77 852.00,595.40 852.50,596.02 C853.00,596.64 853.50,597.25 854.00,597.87 C854.50,598.49 855.00,599.11 855.50,599.72 C856.00,600.34 856.50,600.94 857.00,601.56 C857.50,602.17 858.00,602.79 858.50,603.41 C859.00,604.03 859.50,604.65 860.00,605.27 C860.50,605.89 861.00,606.50 861.50,607.13 C862.00,607.75 862.50,608.39 863.00,609.02 C863.50,609.65 864.00,610.29 864.50,610.93 C865.00,611.57 865.50,612.21 866.00,612.86 C866.50,613.51 867.00,614.16 867.50,614.82 C868.00,615.48 868.50,616.15 869.00,616.82 C869.50,617.49 870.00,618.18 870.50,618.86 C871.00,619.54 871.50,620.23 872.00,620.93 C872.50,621.62 873.00,622.32 873.50,623.03 C874.00,623.74 874.50,624.45 875.00,625.17 C875.50,625.89 876.00,626.61 876.50,627.33 C877.00,628.06 877.50,628.79 878.00,629.52 C878.50,630.25 879.00,630.99 879.50,631.73 C880.00,632.47 880.50,633.22 881.00,633.97 C881.50,634.72 882.00,635.47 882.50,636.23 C883.00,636.99 883.50,637.75 884.00,638.51 C884.50,639.27 885.00,640.04 885.50,640.81 C886.00,641.58 886.50,642.35 887.00,643.12 C887.50,643.89 888.00,644.67 888.50,645.45 C889.00,646.23 889.50,647.01 890.00,647.79 C890.50,648.57 891.00,649.35 891.50,650.14 C892.00,650.93 892.50,651.72 893.00,652.51 C893.50,653.30 894.17,654.34 894.50,654.87 C894.83,655.40 894.92,655.54 895.00,655.67" stroke="#ec0c0c" stroke-width="4.4" fill="none" stroke-linecap="round" stroke-linejoin="round" clip-path="url(#clipd)"/>
<path d="M593.00,688.69 C593.25,688.27 594.00,686.96 594.50,686.17 C595.00,685.38 595.50,684.65 596.00,683.96 C596.50,683.27 597.00,682.63 597.50,682.03 C598.00,681.43 598.50,680.87 599.00,680.35 C599.50,679.83 600.00,679.34 600.50,678.89 C601.00,678.44 601.50,678.02 602.00,677.63 C602.50,677.24 603.00,676.88 603.50,676.54 C604.00,676.20 604.50,675.89 605.00,675.59 C605.50,675.29 606.00,675.01 606.50,674.74 C607.00,674.47 607.50,674.22 608.00,673.97 C608.50,673.72 609.00,673.50 609.50,673.26 C610.00,673.02 610.50,672.79 611.00,672.56 C611.50,672.33 612.00,672.10 612.50,671.86 C613.00,671.62 613.50,671.38 614.00,671.12 C614.50,670.86 615.00,670.60 615.50,670.32 C616.00,670.04 616.50,669.75 617.00,669.43 C617.50,669.11 618.00,668.77 618.50,668.41 C619.00,668.05 619.50,667.66 620.00,667.25 C620.50,666.84 621.00,666.39 621.50,665.93 C622.00,665.47 622.50,664.99 623.00,664.49 C623.50,663.99 624.00,663.47 624.50,662.94 C625.00,662.41 625.50,661.86 626.00,661.30 C626.50,660.74 627.00,660.17 627.50,659.59 C628.00,659.01 628.50,658.42 629.00,657.82 C629.50,657.23 630.00,656.62 630.50,656.02 C631.00,655.42 631.50,654.81 632.00,654.20 C632.50,653.60 633.00,652.99 633.50,652.39 C634.00,651.79 634.50,651.19 635.00,650.60 C635.50,650.01 636.00,649.42 636.50,648.85 C637.00,648.28 637.50,647.71 638.00,647.16 C638.50,646.61 639.00,646.05 639.50,645.52 C640.00,644.99 640.50,644.47 641.00,643.95 C641.50,643.44 642.00,642.93 642.50,642.43 C643.00,641.93 643.50,641.44 644.00,640.96 C644.50,640.48 645.00,640.02 645.50,639.56 C646.00,639.10 646.50,638.65 647.00,638.21 C647.50,637.77 648.00,637.34 648.50,636.92 C649.00,636.50 649.50,636.09 650.00,635.69 C650.50,635.29 651.00,634.89 651.50,634.51 C652.00,634.13 652.50,633.75 653.00,633.39 C653.50,633.03 654.00,632.68 654.50,632.33 C655.00,631.99 655.50,631.65 656.00,631.32 C656.50,630.99 657.00,630.68 657.50,630.37 C658.00,630.06 658.50,629.76 659.00,629.47 C659.50,629.18 660.00,628.90 660.50,628.63 C661.00,628.36 661.50,628.10 662.00,627.85 C662.50,627.60 663.00,627.36 663.50,627.12 C664.00,626.88 664.50,626.66 665.00,626.44 C665.50,626.22 666.00,626.02 666.50,625.82 C667.00,625.62 667.50,625.44 668.00,625.26 C668.50,625.08 669.00,624.91 669.50,624.75 C670.00,624.59 670.50,624.44 671.00,624.30 C671.50,624.16 672.00,624.04 672.50,623.93 C673.00,623.82 673.50,623.72 674.00,623.63 C674.50,623.54 675.00,623.48 675.50,623.42 C676.00,623.36 676.50,623.32 677.00,623.29 C677.50,623.26 678.00,623.25 678.50,623.26 C679.00,623.27 679.50,623.29 680.00,623.33 C680.50,623.37 681.00,623.43 681.50,623.51 C682.00,623.59 682.50,623.68 683.00,623.80 C683.50,623.92 684.00,624.05 684.50,624.21 C685.00,624.37 685.50,624.55 686.00,624.75 C686.50,624.95 687.00,625.18 687.50,625.43 C688.00,625.68 688.50,625.94 689.00,626.24 C689.50,626.54 690.00,626.86 690.50,627.20 C691.00,627.55 691.50,627.91 692.00,628.31 C692.50,628.71 693.00,629.13 693.50,629.58 C694.00,630.03 694.50,630.51 695.00,631.02 C695.50,631.53 696.00,632.07 696.50,632.63 C697.00,633.19 697.50,633.79 698.00,634.41 C698.50,635.03 699.00,635.68 699.50,636.36 C700.00,637.04 700.50,637.75 701.00,638.48 C701.50,639.21 702.00,639.97 702.50,640.75 C703.00,641.53 703.50,642.33 704.00,643.15 C704.50,643.97 705.00,644.82 705.50,645.68 C706.00,646.54 706.50,647.43 707.00,648.33 C707.50,649.23 708.00,650.15 708.50,651.08 C709.00,652.01 709.50,652.96 710.00,653.92 C710.50,654.88 711.00,655.86 711.50,656.85 C712.00,657.84 712.50,658.83 713.00,659.84 C713.50,660.85 714.00,661.87 714.50,662.89 C715.00,663.91 715.50,664.94 716.00,665.95 C716.50,666.96 717.00,667.97 717.50,668.96 C718.00,669.95 718.50,670.93 719.00,671.88 C719.50,672.83 720.00,673.77 720.50,674.66 C721.00,675.55 721.50,676.42 722.00,677.23 C722.50,678.04 723.00,678.82 723.50,679.54 C724.00,680.26 724.50,680.94 725.00,681.55 C725.50,682.16 726.00,682.72 726.50,683.22 C727.00,683.73 727.50,684.17 728.00,684.58 C728.50,684.99 729.00,685.34 729.50,685.66 C730.00,685.98 730.50,686.25 731.00,686.49 C731.50,686.73 732.00,686.94 732.50,687.11 C733.00,687.28 733.50,687.42 734.00,687.54 C734.50,687.65 735.00,687.74 735.50,687.80 C736.00,687.86 736.50,687.90 737.00,687.92 C737.50,687.94 738.00,687.93 738.50,687.91 C739.00,687.89 739.50,687.85 740.00,687.80 C740.50,687.75 741.00,687.67 741.50,687.60 C742.00,687.53 742.50,687.45 743.00,687.36 C743.50,687.27 744.00,687.16 744.50,687.05 C745.00,686.94 745.50,686.81 746.00,686.68 C746.50,686.54 747.00,686.40 747.50,686.24 C748.00,686.08 748.50,685.91 749.00,685.72 C749.50,685.53 750.00,685.33 750.50,685.11 C751.00,684.89 751.50,684.66 752.00,684.40 C752.50,684.14 753.00,683.87 753.50,683.57 C754.00,683.28 754.50,682.97 755.00,682.63 C755.50,682.29 756.00,681.93 756.50,681.55 C757.00,681.17 757.50,680.76 758.00,680.33 C758.50,679.90 759.00,679.43 759.50,678.94 C760.00,678.45 760.50,677.93 761.00,677.38 C761.50,676.83 762.00,676.25 762.50,675.63 C763.00,675.01 763.50,674.37 764.00,673.68 C764.50,672.99 765.00,672.27 765.50,671.51 C766.00,670.75 766.50,669.94 767.00,669.12 C767.50,668.30 768.00,667.45 768.50,666.58 C769.00,665.72 769.50,664.82 770.00,663.93 C770.50,663.04 771.00,662.14 771.50,661.25 C772.00,660.36 772.50,659.46 773.00,658.57 C773.50,657.68 774.00,656.78 774.50,655.90 C775.00,655.02 775.50,654.14 776.00,653.27 C776.50,652.40 777.00,651.52 777.50,650.66 C778.00,649.80 778.50,648.95 779.00,648.10 C779.50,647.25 780.00,646.42 780.50,645.59 C781.00,644.76 781.50,643.94 782.00,643.14 C782.50,642.34 783.00,641.54 783.50,640.76 C784.00,639.98 784.50,639.21 785.00,638.46 C785.50,637.71 786.00,636.97 786.50,636.24 C787.00,635.51 787.50,634.80 788.00,634.11 C788.50,633.42 789.00,632.75 789.50,632.09 C790.00,631.44 790.50,630.80 791.00,630.18 C791.50,629.56 792.00,628.96 792.50,628.38 C793.00,627.80 793.50,627.25 794.00,626.72 C794.50,626.19 795.00,625.68 795.50,625.19 C796.00,624.71 796.50,624.24 797.00,623.81 C797.50,623.38 798.00,622.96 798.50,622.58 C799.00,622.20 799.50,621.84 800.00,621.51 C800.50,621.18 801.00,620.89 801.50,620.62 C802.00,620.35 802.50,620.11 803.00,619.90 C803.50,619.69 804.00,619.51 804.50,619.37 C805.00,619.23 805.50,619.11 806.00,619.03 C806.50,618.95 807.00,618.89 807.50,618.87 C808.00,618.85 808.50,618.85 809.00,618.88 C809.50,618.91 810.00,618.97 810.50,619.05 C811.00,619.13 811.50,619.25 812.00,619.38 C812.50,619.51 813.00,619.67 813.50,619.84 C814.00,620.01 814.50,620.21 815.00,620.43 C815.50,620.65 816.00,620.88 816.50,621.14 C817.00,621.40 817.50,621.68 818.00,621.97 C818.50,622.26 819.00,622.57 819.50,622.89 C820.00,623.21 820.50,623.55 821.00,623.90 C821.50,624.25 822.00,624.62 822.50,625.00 C823.00,625.38 823.50,625.76 824.00,626.16 C824.50,626.56 825.00,626.97 825.50,627.39 C826.00,627.81 826.50,628.23 827.00,628.66 C827.50,629.09 828.00,629.53 828.50,629.98 C829.00,630.43 829.50,630.88 830.00,631.33 C830.50,631.78 831.00,632.23 831.50,632.69 C832.00,633.15 832.50,633.61 833.00,634.07 C833.50,634.53 834.00,634.99 834.50,635.45 C835.00,635.91 835.50,636.37 836.00,636.82 C836.50,637.27 837.00,637.72 837.50,638.17 C838.00,638.62 838.50,639.06 839.00,639.49 C839.50,639.92 840.00,640.36 840.50,640.78 C841.00,641.20 841.50,641.61 842.00,642.02 C842.50,642.43 843.00,642.83 843.50,643.23 C844.00,643.63 844.50,644.02 845.00,644.41 C845.50,644.80 846.00,645.18 846.50,645.56 C847.00,645.94 847.50,646.33 848.00,646.70 C848.50,647.08 849.00,647.44 849.50,647.81 C850.00,648.18 850.50,648.55 851.00,648.92 C851.50,649.29 852.00,649.65 852.50,650.02 C853.00,650.39 853.50,650.75 854.00,651.12 C854.50,651.49 855.00,651.86 855.50,652.23 C856.00,652.60 856.50,652.97 857.00,653.34 C857.50,653.71 858.00,654.09 858.50,654.47 C859.00,654.85 859.50,655.23 860.00,655.61 C860.50,656.00 861.00,656.39 861.50,656.78 C862.00,657.17 862.50,657.57 863.00,657.97 C863.50,658.37 864.00,658.79 864.50,659.20 C865.00,659.62 865.50,660.03 866.00,660.46 C866.50,660.89 867.00,661.33 867.50,661.77 C868.00,662.21 868.50,662.66 869.00,663.12 C869.50,663.58 870.00,664.04 870.50,664.51 C871.00,664.98 871.50,665.45 872.00,665.93 C872.50,666.41 873.00,666.89 873.50,667.37 C874.00,667.85 874.50,668.34 875.00,668.83 C875.50,669.32 876.00,669.80 876.50,670.29 C877.00,670.77 877.50,671.26 878.00,671.74 C878.50,672.22 879.00,672.70 879.50,673.18 C880.00,673.65 880.50,674.12 881.00,674.59 C881.50,675.06 882.00,675.52 882.50,675.97 C883.00,676.42 883.50,676.87 884.00,677.30 C884.50,677.73 885.00,678.16 885.50,678.58 C886.00,679.00 886.50,679.40 887.00,679.80 C887.50,680.19 888.00,680.58 888.50,680.95 C889.00,681.32 889.50,681.67 890.00,682.01 C890.50,682.35 891.00,682.68 891.50,682.99 C892.00,683.30 892.50,683.60 893.00,683.87 C893.50,684.14 894.17,684.47 894.50,684.63 C894.83,684.79 894.92,684.82 895.00,684.86" stroke="#1717dc" stroke-width="4.4" fill="none" stroke-linecap="round" stroke-linejoin="round" clip-path="url(#clipd)"/>
<line x1="605.4" y1="471.5" x2="632.6" y2="471.5" stroke="#000" stroke-width="4.2" stroke-linecap="round"/>
<line x1="605.4" y1="495.6" x2="632.6" y2="495.6" stroke="#ec0c0c" stroke-width="4.2" stroke-linecap="round"/>
<line x1="605.4" y1="518.4" x2="632.6" y2="518.4" stroke="#1717dc" stroke-width="4.2" stroke-linecap="round"/>
<text x="0.63" y="24.00" font-size="28.36" font-weight="bold" textLength="13.65" lengthAdjust="spacingAndGlyphs" fill="#000" stroke="#000" stroke-width="0.3">a</text>

<text x="479.38" y="24.00" font-size="26.76" font-weight="bold" textLength="17.16" lengthAdjust="spacingAndGlyphs" fill="#000" stroke="#000" stroke-width="0.3">b</text>

<text x="0.21" y="441.20" font-size="28.05" font-weight="bold" textLength="15.15" lengthAdjust="spacingAndGlyphs" fill="#000" stroke="#000" stroke-width="0.3">c</text>

<text x="478.90" y="440.90" font-size="26.73" font-weight="bold" textLength="18.14" lengthAdjust="spacingAndGlyphs" fill="#000" stroke="#000" stroke-width="0.3">d</text>

<text x="202.63" y="30.30" font-size="18.74" textLength="69.20" lengthAdjust="spacingAndGlyphs" fill="#000" stroke="#000" stroke-width="0.3">H3K9ac</text>

<text x="122.85" y="60.90" font-size="15.93" textLength="84.18" lengthAdjust="spacingAndGlyphs" fill="#000" stroke="#000" stroke-width="0.3">shLuc –Glc</text>

<text x="122.81" y="83.70" font-size="15.54" textLength="84.65" lengthAdjust="spacingAndGlyphs" fill="#000" stroke="#000" stroke-width="0.3">shLuc +Glc</text>

<text x="122.83" y="107.80" font-size="15.63" textLength="106.60" lengthAdjust="spacingAndGlyphs" fill="#000" stroke="#000" stroke-width="0.3">shNedd4 +Glc</text>

<text x="320.34" y="70.60" font-size="20.55" textLength="40.06" lengthAdjust="spacingAndGlyphs" fill="#000" stroke="#000" stroke-width="0.3">High</text>

<text x="218.99" y="386.10" font-size="18.82" textLength="37.28" lengthAdjust="spacingAndGlyphs" fill="#000" stroke="#000" stroke-width="0.3">TSS</text>

<text x="605.64" y="43.30" font-size="21.06" textLength="282.06" lengthAdjust="spacingAndGlyphs" fill="#26d62a" stroke="#26d62a" stroke-width="0.3">H3K9ac down in NEDD4 KD</text>

<text x="568.23" y="215.90" font-size="22.17" textLength="52.34" lengthAdjust="spacingAndGlyphs" fill="#000" stroke="#000" stroke-width="0.3">1,231</text>

<text x="653.59" y="215.90" font-size="21.66" textLength="35.68" lengthAdjust="spacingAndGlyphs" fill="#000" stroke="#000" stroke-width="0.3">807</text>

<text x="769.60" y="215.80" font-size="22.28" textLength="56.53" lengthAdjust="spacingAndGlyphs" fill="#000" stroke="#000" stroke-width="0.3">6,743</text>

<text x="478.98" y="314.90" font-size="22.69" textLength="177.37" lengthAdjust="spacingAndGlyphs" fill="#ec7474" stroke="#ec7474" stroke-width="0.3">Glucose-inducible</text>

<text x="527.60" y="341.40" font-size="21.12" textLength="79.49" lengthAdjust="spacingAndGlyphs" fill="#ec7474" stroke="#ec7474" stroke-width="0.3">H3K9ac</text>

<text x="47.44" y="485.30" font-size="22.30" textLength="176.68" lengthAdjust="spacingAndGlyphs" fill="#000" stroke="#000" stroke-width="0.3">Glucose-inducible</text>

<text x="96.39" y="511.60" font-size="22.69" textLength="78.81" lengthAdjust="spacingAndGlyphs" fill="#000" stroke="#000" stroke-width="0.3">H3K9ac</text>

<text x="182.09" y="629.40" font-size="18.23" textLength="38.15" lengthAdjust="spacingAndGlyphs" fill="#000" stroke="#000" stroke-width="0.3">40%</text>

<text x="250.40" y="578.80" font-size="22.06" textLength="186.99" lengthAdjust="spacingAndGlyphs" fill="#6aac45" stroke="#6aac45" stroke-width="0.3">NEDD4 dependent</text>

<text x="712.73" y="447.30" font-size="18.87" textLength="69.41" lengthAdjust="spacingAndGlyphs" fill="#000" stroke="#000" stroke-width="0.3">H3K9ac</text>

<text x="643.46" y="476.50" font-size="15.13" textLength="78.58" lengthAdjust="spacingAndGlyphs" fill="#000" stroke="#000" stroke-width="0.3">shLuc–Glc</text>

<text x="643.48" y="500.60" font-size="15.87" textLength="79.37" lengthAdjust="spacingAndGlyphs" fill="#000" stroke="#000" stroke-width="0.3">shLuc+Glc</text>

<text x="643.40" y="523.30" font-size="14.81" textLength="101.88" lengthAdjust="spacingAndGlyphs" fill="#000" stroke="#000" stroke-width="0.3">shNedd4+Glc</text>

<text x="835.09" y="486.80" font-size="19.26" textLength="39.65" lengthAdjust="spacingAndGlyphs" fill="#000" stroke="#000" stroke-width="0.3">High</text>

<text x="706.39" y="815.30" font-size="19.50" textLength="83.17" lengthAdjust="spacingAndGlyphs" fill="#000" stroke="#000" stroke-width="0.3">Enhancer</text>

<text x="59.33" y="332.64" font-size="19.60" fill="#000" stroke="#000" stroke-width="0.3">0</text>

<text x="232.23" y="354.87" font-size="19.60" fill="#000" stroke="#000" stroke-width="0.3">0</text>

<text x="573.01" y="762.58" font-size="19.60" fill="#000" stroke="#000" stroke-width="0.3">0</text>

<text x="742.67" y="783.42" font-size="19.60" fill="#000" stroke="#000" stroke-width="0.3">0</text>

<text x="48.92" y="281.69" font-size="19.60" fill="#000" stroke="#000" stroke-width="0.3">50</text>

<text x="38.03" y="230.74" font-size="19.60" fill="#000" stroke="#000" stroke-width="0.3">100</text>

<text x="38.03" y="179.79" font-size="19.60" fill="#000" stroke="#000" stroke-width="0.3">150</text>

<text x="38.03" y="128.84" font-size="19.60" fill="#000" stroke="#000" stroke-width="0.3">200</text>

<text x="38.03" y="77.89" font-size="19.60" fill="#000" stroke="#000" stroke-width="0.3">250</text>

<text x="49.16" y="354.87" font-size="19.60" fill="#000" stroke="#000" stroke-width="0.3">−2,500</text>

<text x="128.16" y="354.87" font-size="19.60" fill="#000" stroke="#000" stroke-width="0.3">−1,250</text>

<text x="291.69" y="354.87" font-size="19.60" fill="#000" stroke="#000" stroke-width="0.3">1,250</text>

<text x="370.84" y="354.87" font-size="19.60" fill="#000" stroke="#000" stroke-width="0.3">2,500</text>

<text x="561.92" y="710.24" font-size="19.60" fill="#000" stroke="#000" stroke-width="0.3">30</text>

<text x="561.92" y="657.90" font-size="19.60" fill="#000" stroke="#000" stroke-width="0.3">60</text>

<text x="561.92" y="605.56" font-size="19.60" fill="#000" stroke="#000" stroke-width="0.3">90</text>

<text x="551.03" y="553.22" font-size="19.60" fill="#000" stroke="#000" stroke-width="0.3">120</text>

<text x="551.03" y="500.88" font-size="19.60" fill="#000" stroke="#000" stroke-width="0.3">150</text>

<text x="562.72" y="783.42" font-size="19.60" fill="#000" stroke="#000" stroke-width="0.3">−3,000</text>

<text x="640.10" y="783.42" font-size="19.60" fill="#000" stroke="#000" stroke-width="0.3">−1,500</text>

<text x="800.44" y="783.42" font-size="19.60" fill="#000" stroke="#000" stroke-width="0.3">1,500</text>

<text x="878.01" y="783.42" font-size="19.60" fill="#000" stroke="#000" stroke-width="0.3">3,000</text>

<text x="16.80" y="298.65" font-size="19.00" textLength="228.73" lengthAdjust="spacingAndGlyphs" transform="rotate(-90 16.80 298.65)" fill="#000" stroke="#000" stroke-width="0.3">Spike-in normalized signal</text>

<text x="531.40" y="721.03" font-size="18.50" textLength="227.03" lengthAdjust="spacingAndGlyphs" transform="rotate(-90 531.40 721.03)" fill="#000" stroke="#000" stroke-width="0.3">Spike-in normalized signal</text>

</svg>
</body></html>
